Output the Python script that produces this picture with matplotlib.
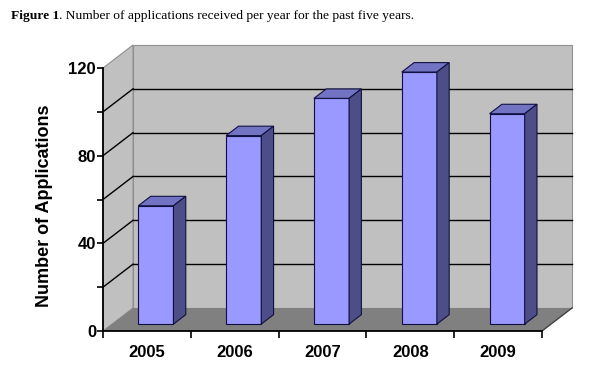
import matplotlib.pyplot as plt
from matplotlib.patches import Polygon
import numpy as np

years = ['2005', '2006', '2007', '2008', '2009']
applications = [54, 86, 103, 115, 96]
y_ticks = [0, 20, 40, 60, 80, 100, 120]
y_labels = ['0', '', '40', '', '80', '', '120']

# oblique "3d" look, offsets in data units
DX, DY = 0.342, 10.5          # depth of the whole box
f0, f1 = 0.30, 0.71           # bar front / back as fraction of depth
bw = 0.40                     # bar width

wall = '#c0c0c0'
floor = '#808080'
face = '#9999ff'
top = '#7373c4'
side = '#4d4d88'

fig = plt.figure(figsize=(5.92, 3.75), dpi=100)
ax = fig.add_axes([103/592, 44/375, 439/592, 263/375])
ax.set_xlim(-0.5, 4.5)
ax.set_ylim(0, 120)
ax.patch.set_visible(False)

x0, x1 = -0.5, 4.5
ymax = 120

def poly(pts, fc, ec='none', lw=0.8, z=1):
    ax.add_patch(Polygon(pts, closed=True, fc=fc, ec=ec, lw=lw, zorder=z,
                         clip_on=False))

# back wall and left wall
poly([(x0+DX, DY), (x1+DX, DY), (x1+DX, ymax+DY), (x0+DX, ymax+DY)], wall,
     ec='#909090', z=0)
poly([(x0, 0), (x0+DX, DY), (x0+DX, ymax+DY), (x0, ymax)], wall,
     ec='#909090', z=0)

# gridlines
for v in y_ticks[1:-1]:
    ax.plot([x0+DX, x1+DX], [v+DY, v+DY], color='black', lw=1, zorder=1,
            clip_on=False)
    ax.plot([x0, x0+DX], [v, v+DY], color='black', lw=1, zorder=1,
            clip_on=False)

# floor
poly([(x0, 0), (x1, 0), (x1+DX, DY), (x0+DX, DY)], floor, z=2)
ax.plot([x1, x1+DX], [0, DY], color='#404040', lw=1, zorder=2, clip_on=False)

# bars
xs = np.arange(len(years))
for x, v in zip(xs, applications):
    xf = x + f0*DX
    yb = f0*DY
    ddx = (f1-f0)*DX
    ddy = (f1-f0)*DY
    l, r = xf - bw/2, xf + bw/2
    # front
    poly([(l, yb), (r, yb), (r, yb+v), (l, yb+v)], face, ec='#101040', z=5)
    # top
    poly([(l, yb+v), (r, yb+v), (r+ddx, yb+v+ddy), (l+ddx, yb+v+ddy)], top,
         ec='#101040', z=5)
    # side
    poly([(r, yb), (r+ddx, yb+ddy), (r+ddx, yb+v+ddy), (r, yb+v)], side,
         ec='#101040', z=5)

# axes
for s in ['top', 'right']:
    ax.spines[s].set_visible(False)
ax.spines['left'].set_linewidth(1.3)
ax.spines['bottom'].set_linewidth(1.3)
ax.spines['left'].set_zorder(6)
ax.spines['bottom'].set_zorder(6)

ax.set_yticks(y_ticks)
ax.set_yticklabels(y_labels, fontsize=12, fontweight='bold',
                   family='Liberation Sans')
ax.tick_params(axis='y', length=4, width=1.2, pad=1)

ax.set_xticks(xs)
ax.set_xticklabels(years, fontsize=12, fontweight='bold',
                   family='Liberation Sans')
ax.set_xticks(np.arange(-0.5, 5, 1), minor=True)
ax.tick_params(axis='x', which='major', length=0, pad=10)
ax.tick_params(axis='x', which='minor', length=5, width=1.2)

ax.set_ylabel('Number of Applications', fontsize=13, fontweight='bold',
              family='Liberation Sans')
ax.yaxis.set_label_coords(-0.114, 0.477)

t1 = fig.text(11/592, 1 - 16/375, 'Figure 1', fontsize=9.7, fontweight='bold',
              family='Liberation Serif', va='center')
fig.canvas.draw()
bb = t1.get_window_extent()
fig.text(bb.x1/592, 1 - 16/375,
         '. Number of applications received per year for the past five years.',
         fontsize=9.7, family='Liberation Serif', va='center')

fig.savefig('out.png', dpi=100)
